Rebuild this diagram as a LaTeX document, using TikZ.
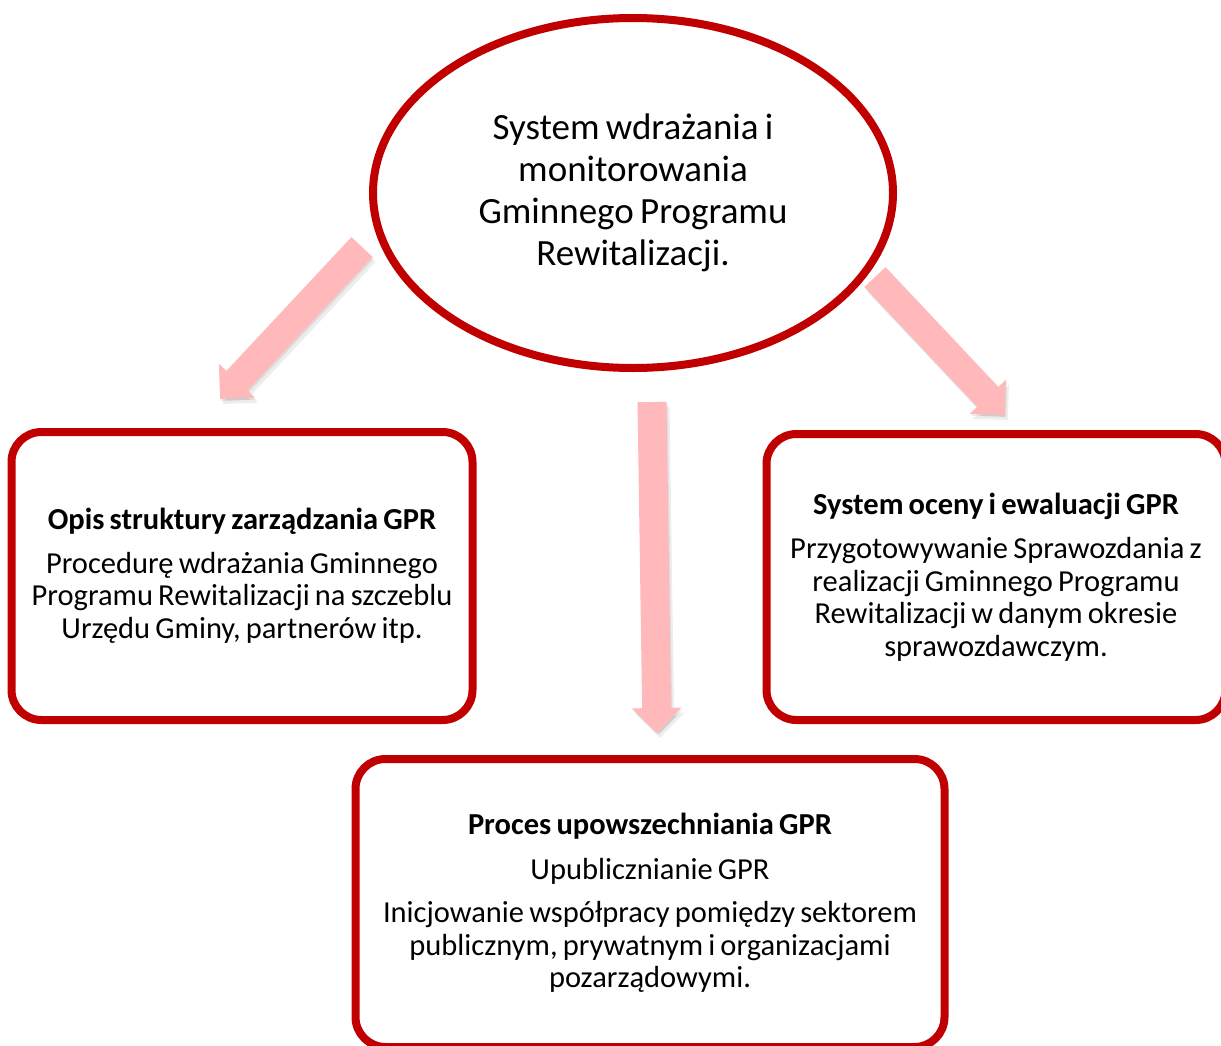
\documentclass[tikz,border=0pt]{standalone}
\usepackage{fontspec}
\setmainfont{Carlito}[WordSpace=0.75]
\usetikzlibrary{shapes.geometric,arrows.meta,shadows}

\definecolor{ramka}{HTML}{C00000}
\definecolor{strzalka}{HTML}{FFB9BB}

\tikzset{
    ramkabox/.style={draw=ramka, line width=8pt, rounded corners=30pt, fill=white,
        align=center, inner sep=0pt, font=\fontsize{30.5}{32.5}\selectfont,
        drop shadow={shadow xshift=2pt, shadow yshift=-4pt, opacity=0.2}},
    owal/.style={ellipse, draw=ramka, line width=8pt, fill=white, align=center,
        inner sep=0pt, font=\fontsize{37}{42}\selectfont},
    strzal/.style={line width=29pt, draw=strzalka, -{Triangle[length=25pt,width=48pt]}},
    cien/.style={line width=29pt, draw=black, opacity=0.07, -{Triangle[length=25pt,width=48pt]}}
}

\begin{document}
\begin{tikzpicture}[x=1pt,y=-1pt]
        % Page frame
        \useasboundingbox (0,0) rectangle (1221,1046);
        \clip (0,0) rectangle (1221,1046);

        % Arrow ends
        \coordinate (lewy_a) at (362,247);
        \coordinate (lewy_b) at (220,399);
        \coordinate (srodek_a) at (652,402);
        \coordinate (srodek_b) at (657,733);
        \coordinate (prawy_a) at (875,277);
        \coordinate (prawy_b) at (1005,415);

        % Arrows (soft shadow first)
        \foreach \s in {lewy,srodek,prawy}
           {
                \draw[cien, transform canvas={shift={(1pt,-2pt)}}] (\s_a) -- (\s_b);
                \draw[cien, transform canvas={shift={(3pt,-5pt)}}] (\s_a) -- (\s_b);
                \draw[strzal] (\s_a) -- (\s_b);
           }

        % Central ellipse
        \node[owal, minimum width=520, minimum height=350] (system) at (633,193)
            {System wdrażania i\\ monitorowania\\ Gminnego Programu\\ Rewitalizacji.};

        % Boxes
        \node[ramkabox, minimum width=461, minimum height=288] (opis) at (242,576)
            {\textbf{Opis struktury zarządzania GPR}\\[11pt]
             Procedurę wdrażania Gminnego\\ Programu Rewitalizacji na szczeblu\\
             Urzędu Gminy, partnerów itp.};
        \node[ramkabox, minimum width=459, minimum height=286] (ocena) at (996,577)
            {\textbf{System oceny i ewaluacji GPR}\\[12pt]
             Przygotowywanie Sprawozdania z\\ realizacji Gminnego Programu\\
             Rewitalizacji w danym okresie\\ sprawozdawczym.};
        \node[ramkabox, minimum width=589, minimum height=288] (proces) at (650,903)
            {\textbf{Proces upowszechniania GPR}\\[12pt]
             Upublicznianie GPR\\[11pt]
             Inicjowanie współpracy pomiędzy sektorem\\ publicznym, prywatnym i organizacjami\\
             pozarządowymi.};
    \end{tikzpicture}
\end{document}
